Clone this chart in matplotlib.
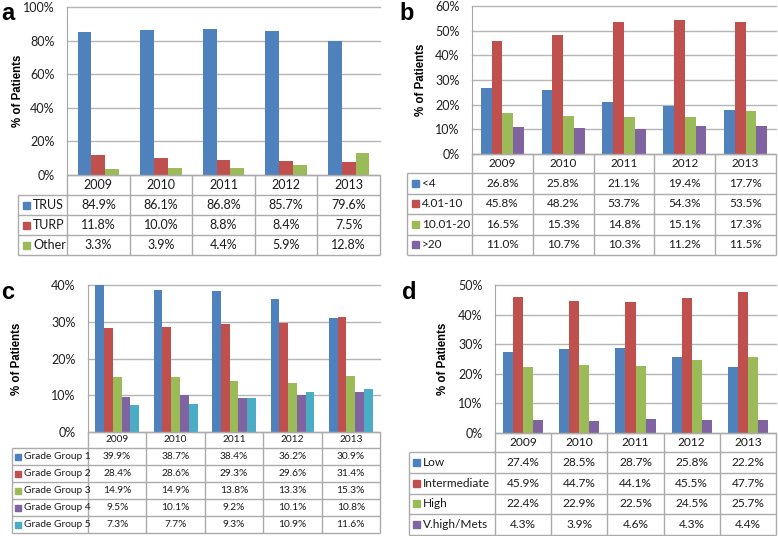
import matplotlib
matplotlib.use('Agg')
import matplotlib.pyplot as plt
from matplotlib.patches import Rectangle
import numpy as np

years = ['2009', '2010', '2011', '2012', '2013']

a_labels = ['TRUS', 'TURP', 'Other']
a_trus = [84.9, 86.1, 86.8, 85.7, 79.6]
a_turp = [11.8, 10.0, 8.8, 8.4, 7.5]
a_other = [3.3, 3.9, 4.4, 5.9, 12.8]

b_labels = ['<4', '4.01-10', '10.01-20', '>20']
b_lt4 = [26.8, 25.8, 21.1, 19.4, 17.7]
b_4_10 = [45.8, 48.2, 53.7, 54.3, 53.5]
b_10_20 = [16.5, 15.3, 14.8, 15.1, 17.3]
b_gt20 = [11.0, 10.7, 10.3, 11.2, 11.5]

c_labels = ['Grade Group 1', 'Grade Group 2', 'Grade Group 3', 'Grade Group 4', 'Grade Group 5']
c_gg1 = [39.9, 38.7, 38.4, 36.2, 30.9]
c_gg2 = [28.4, 28.6, 29.3, 29.6, 31.4]
c_gg3 = [14.9, 14.9, 13.8, 13.3, 15.3]
c_gg4 = [9.5, 10.1, 9.2, 10.1, 10.8]
c_gg5 = [7.3, 7.7, 9.3, 10.9, 11.6]

d_labels = ['Low', 'Intermediate', 'High', 'V.high/Mets']
d_low = [27.4, 28.5, 28.7, 25.8, 22.2]
d_int = [45.9, 44.7, 44.1, 45.5, 47.7]
d_high = [22.4, 22.9, 22.5, 24.5, 25.7]
d_vhigh = [4.3, 3.9, 4.6, 4.3, 4.4]

colors = ['#4F81BD', '#C0504D', '#9BBB59', '#8064A2', '#4BACC6']
FONT = ['Lato', 'DejaVu Sans']
plt.rcParams['font.family'] = FONT

W, H = 778, 536
fig = plt.figure(figsize=(W / 100, H / 100), dpi=100)
fig.patch.set_facecolor('white')


def px_axes(x0, y0, x1, y1):
    return fig.add_axes([x0 / W, 1 - y1 / H, (x1 - x0) / W, (y1 - y0) / H])


def panel(letter, letter_xy, ylab_x, tbl_left, pl, pr, pt, pb, hdr_h, tbl_bottom,
          labels, series, ymax, ystep, bar_w, tick_fs, tbl_fs, sq, sq_off, txt_off):
    ax = px_axes(pl, pt, pr, pb)
    n = len(series)
    x = np.arange(len(years))
    for i, vals in enumerate(series):
        ax.bar(x + (i - (n - 1) / 2) * bar_w, vals, width=bar_w,
               color=colors[i], edgecolor='none', zorder=3)
    ax.set_xlim(-0.5, len(years) - 0.5)
    ax.set_ylim(0, ymax)
    ticks = np.arange(0, ymax + 0.01, ystep)
    ax.set_yticks(ticks)
    ax.set_yticklabels([f'{int(t)}%' for t in ticks], fontsize=tick_fs, color='#1f1f1f')
    ax.yaxis.grid(True, color='#B5B5B5', lw=1.0, zorder=0)
    ax.set_axisbelow(True)
    ax.set_xticks([])
    for s in ['top', 'right', 'bottom']:
        ax.spines[s].set_visible(False)
    ax.spines['left'].set_color('#A6A6A6')
    ax.tick_params(axis='y', length=0, pad=9)
    for gl in ax.get_ygridlines():
        gl.set_clip_on(False)

    fig.text(ylab_x / W, 1 - ((pt + pb) / 2) / H, '% of Patients', rotation=90,
             ha='center', va='center', fontsize=8.3, fontweight='bold',
             family=['Liberation Sans', 'DejaVu Sans'])
    fig.text(letter_xy[0] / W, 1 - letter_xy[1] / H, letter, ha='left', va='top',
             fontsize=17, fontweight='bold', family=['Liberation Sans', 'DejaVu Sans'])

    # table
    tw = pr - tbl_left
    th = tbl_bottom - pb
    at = px_axes(tbl_left, pb, pr, tbl_bottom)
    at.set_xlim(0, tw)
    at.set_ylim(th, 0)
    at.axis('off')
    lc = pl - tbl_left
    colw = (pr - pl) / len(years)
    nr = len(labels)
    rh = (th - hdr_h) / nr
    lcol = '#ABABAB'
    kw = dict(color=lcol, lw=1.0, clip_on=False, solid_capstyle='butt')
    at.plot([lc, tw], [0, 0], **kw)
    for k in range(nr + 1):
        yy = hdr_h + k * rh
        at.plot([0, tw], [yy, yy], **kw)
    at.plot([0, 0], [hdr_h, th], **kw)
    for j in range(len(years) + 1):
        xx = lc + j * colw
        at.plot([xx, xx], [0, th], **kw)
    for j, yr in enumerate(years):
        at.text(lc + (j + 0.5) * colw, hdr_h / 2, yr, ha='center', va='center',
                fontsize=tbl_fs, color='#1a1a1a')
    for i, lab in enumerate(labels):
        yc = hdr_h + (i + 0.5) * rh
        at.add_patch(Rectangle((sq_off, yc - sq / 2), sq, sq, color=colors[i], clip_on=False))
        at.text(txt_off, yc, lab, ha='left', va='center', fontsize=tbl_fs, color='#1a1a1a')
        for j, v in enumerate(series[i]):
            at.text(lc + (j + 0.5) * colw, yc, f'{v:.1f}%', ha='center', va='center',
                    fontsize=tbl_fs, color='#1a1a1a')


panel('a', (1, 2), 18, 18, 67, 380, 7, 175, 20, 255,
      a_labels, [a_trus, a_turp, a_other], 100, 20, 0.22, 9, 9, 7, 5, 15)
panel('b', (399, 2), 421, 407, 472, 776, 6, 154, 19, 255,
      b_labels, [b_lt4, b_4_10, b_10_20, b_gt20], 60, 10, 0.178, 9, 8.5, 7, 5, 15)
panel('c', (1, 281), 17, 12, 88, 380, 285, 432, 16, 533,
      c_labels, [c_gg1, c_gg2, c_gg3, c_gg4, c_gg5], 40, 10, 0.15, 9, 7.3, 6, 3, 12)
panel('d', (402, 281), 443, 409, 495, 776, 285, 433, 19, 535,
      d_labels, [d_low, d_int, d_high, d_vhigh], 50, 10, 0.178, 9, 8.6, 7, 4, 14)

fig.savefig('out.png', dpi=100, facecolor='white')
